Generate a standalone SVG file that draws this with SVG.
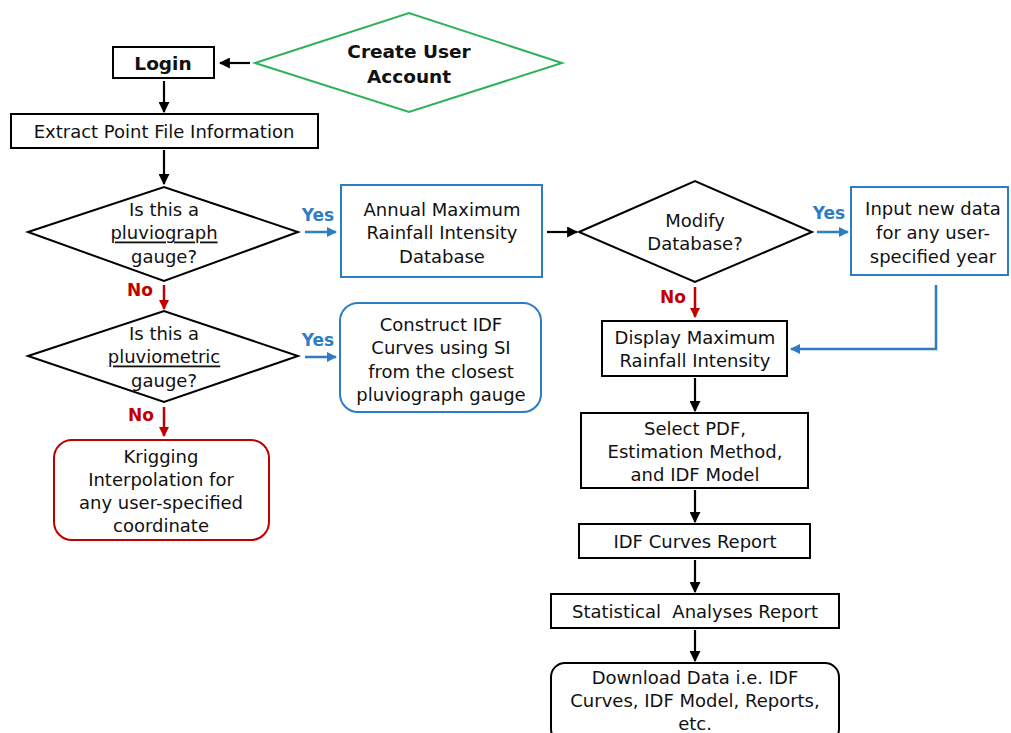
<svg xmlns="http://www.w3.org/2000/svg" width="1011" height="733" viewBox="0 0 1011 733">
<defs>
<style>
text{font-family:"DejaVu Sans","Liberation Sans",sans-serif;font-size:18px;fill:#111;text-anchor:middle;dominant-baseline:central}
.b{font-weight:bold;font-size:18.5px}
.shape{fill:#fff;stroke:#000;stroke-width:2}
.blue{stroke:#2e7dc4}
.red{stroke:#c00000}
.green{stroke:#2cb35a}
.lk{fill:none;stroke:#000;stroke-width:2.2}
.lb{fill:none;stroke:#2e7dc4;stroke-width:2.5}
.lr{fill:none;stroke:#c00000;stroke-width:2.5}
.yes{fill:#2e7dc4;font-weight:bold;font-size:17px}
.no{fill:#c00000;font-weight:bold;font-size:17px}
</style>
<marker id="ak" viewBox="0 0 10 10" refX="9" refY="5" markerWidth="5" markerHeight="5" orient="auto"><path d="M0,0L10,5L0,10z" fill="#000"/></marker>
<marker id="ab" viewBox="0 0 10 10" refX="9" refY="5" markerWidth="4" markerHeight="4" orient="auto"><path d="M0,0L10,5L0,10z" fill="#2e7dc4"/></marker>
<marker id="ar" viewBox="0 0 10 10" refX="9" refY="5" markerWidth="4" markerHeight="4" orient="auto"><path d="M0,0L10,5L0,10z" fill="#c00000"/></marker>
</defs>
<rect width="1011" height="733" fill="#fff"/>
<g id="connectors">
<line class="lk" x1="250" y1="63" x2="220" y2="63" marker-end="url(#ak)"/>
<line class="lk" x1="164" y1="81" x2="164" y2="112" marker-end="url(#ak)"/>
<line class="lk" x1="164" y1="150" x2="164" y2="184" marker-end="url(#ak)"/>
<line class="lb" x1="305" y1="232" x2="336" y2="232" marker-end="url(#ab)"/>
<line class="lk" x1="547" y1="232" x2="577" y2="232" marker-end="url(#ak)"/>
<line class="lb" x1="817" y1="232" x2="848" y2="232" marker-end="url(#ab)"/>
<polyline class="lb" points="936,285 936,349 791,349" marker-end="url(#ab)"/>
<line class="lr" x1="695" y1="287" x2="695" y2="317" marker-end="url(#ar)"/>
<line class="lk" x1="695" y1="378" x2="695" y2="411" marker-end="url(#ak)"/>
<line class="lk" x1="695" y1="490" x2="695" y2="522" marker-end="url(#ak)"/>
<line class="lk" x1="695" y1="560" x2="695" y2="592" marker-end="url(#ak)"/>
<line class="lk" x1="695" y1="630" x2="695" y2="661" marker-end="url(#ak)"/>
<line class="lr" x1="164" y1="285" x2="164" y2="309" marker-end="url(#ar)"/>
<line class="lb" x1="305" y1="357" x2="336" y2="357" marker-end="url(#ab)"/>
<line class="lr" x1="164" y1="407" x2="164" y2="436" marker-end="url(#ar)"/>
<text class="yes" x="318" y="215">Yes</text>
<text class="yes" x="318" y="340">Yes</text>
<text class="yes" x="829" y="213">Yes</text>
<text class="no" x="140" y="290">No</text>
<text class="no" x="141" y="415">No</text>
<text class="no" x="673" y="297">No</text>
</g>
<g id="create">
<polygon class="shape green" points="255,63 409,13 562,63 409,112"/>
<text class="b" x="409" y="51">Create User</text>
<text class="b" x="409" y="76">Account</text>
</g>
<g id="login">
<rect class="shape" x="113" y="47" width="101" height="31"/>
<text class="b" x="163" y="63">Login</text>
</g>
<g id="extract">
<rect class="shape" x="11" y="114" width="307" height="34"/>
<text x="164" y="131">Extract Point File Information</text>
</g>
<g id="q-pluviograph">
<polygon class="shape" points="28,232 164,187 298,232 164,281"/>
<text x="164" y="209">Is this a</text>
<text x="164" y="232" text-decoration="underline">pluviograph</text>
<text x="164" y="256">gauge?</text>
</g>
<g id="annual">
<rect class="shape blue" x="341" y="185" width="201" height="92"/>
<text x="442" y="209">Annual Maximum</text>
<text x="442" y="232">Rainfall Intensity</text>
<text x="442" y="256">Database</text>
</g>
<g id="q-modify">
<polygon class="shape" points="579,232 695,181 812,232 695,282"/>
<text x="695" y="220">Modify</text>
<text x="695" y="243">Database?</text>
</g>
<g id="input">
<rect class="shape blue" x="851" y="187" width="157" height="88"/>
<text x="933" y="208">Input new data</text>
<text x="933" y="232">for any user-</text>
<text x="933" y="256">specified year</text>
</g>
<g id="display">
<rect class="shape" x="602" y="321" width="185" height="55"/>
<text x="695" y="337">Display Maximum</text>
<text x="695" y="360">Rainfall Intensity</text>
</g>
<g id="select">
<rect class="shape" x="581" y="413" width="227" height="75"/>
<text x="695" y="428">Select PDF,</text>
<text x="695" y="451">Estimation Method,</text>
<text x="695" y="474">and IDF Model</text>
</g>
<g id="idf-report">
<rect class="shape" x="579" y="524" width="231" height="34"/>
<text x="695" y="541">IDF Curves Report</text>
</g>
<g id="stat-report">
<rect class="shape" x="551" y="594" width="288" height="34"/>
<text x="695" y="611" xml:space="preserve">Statistical  Analyses Report</text>
</g>
<g id="download">
<rect class="shape" x="551" y="663" width="288" height="80" rx="14"/>
<text x="695" y="677">Download Data i.e. IDF</text>
<text x="695" y="700">Curves, IDF Model, Reports,</text>
<text x="695" y="723">etc.</text>
</g>
<g id="q-pluviometric">
<polygon class="shape" points="28,356 164,311 298,356 164,402"/>
<text x="164" y="333">Is this a</text>
<text x="164" y="356" text-decoration="underline">pluviometric</text>
<text x="164" y="380">gauge?</text>
</g>
<g id="construct">
<rect class="shape blue" x="340" y="303" width="201" height="109" rx="18"/>
<text x="441" y="324">Construct IDF</text>
<text x="441" y="347">Curves using SI</text>
<text x="441" y="371">from the closest</text>
<text x="441" y="394">pluviograph gauge</text>
</g>
<g id="kriging">
<rect class="shape red" x="54" y="440" width="215" height="100" rx="18"/>
<text x="161" y="456">Krigging</text>
<text x="161" y="479">Interpolation for</text>
<text x="161" y="502">any user-specified</text>
<text x="161" y="525">coordinate</text>
</g>
</svg>
